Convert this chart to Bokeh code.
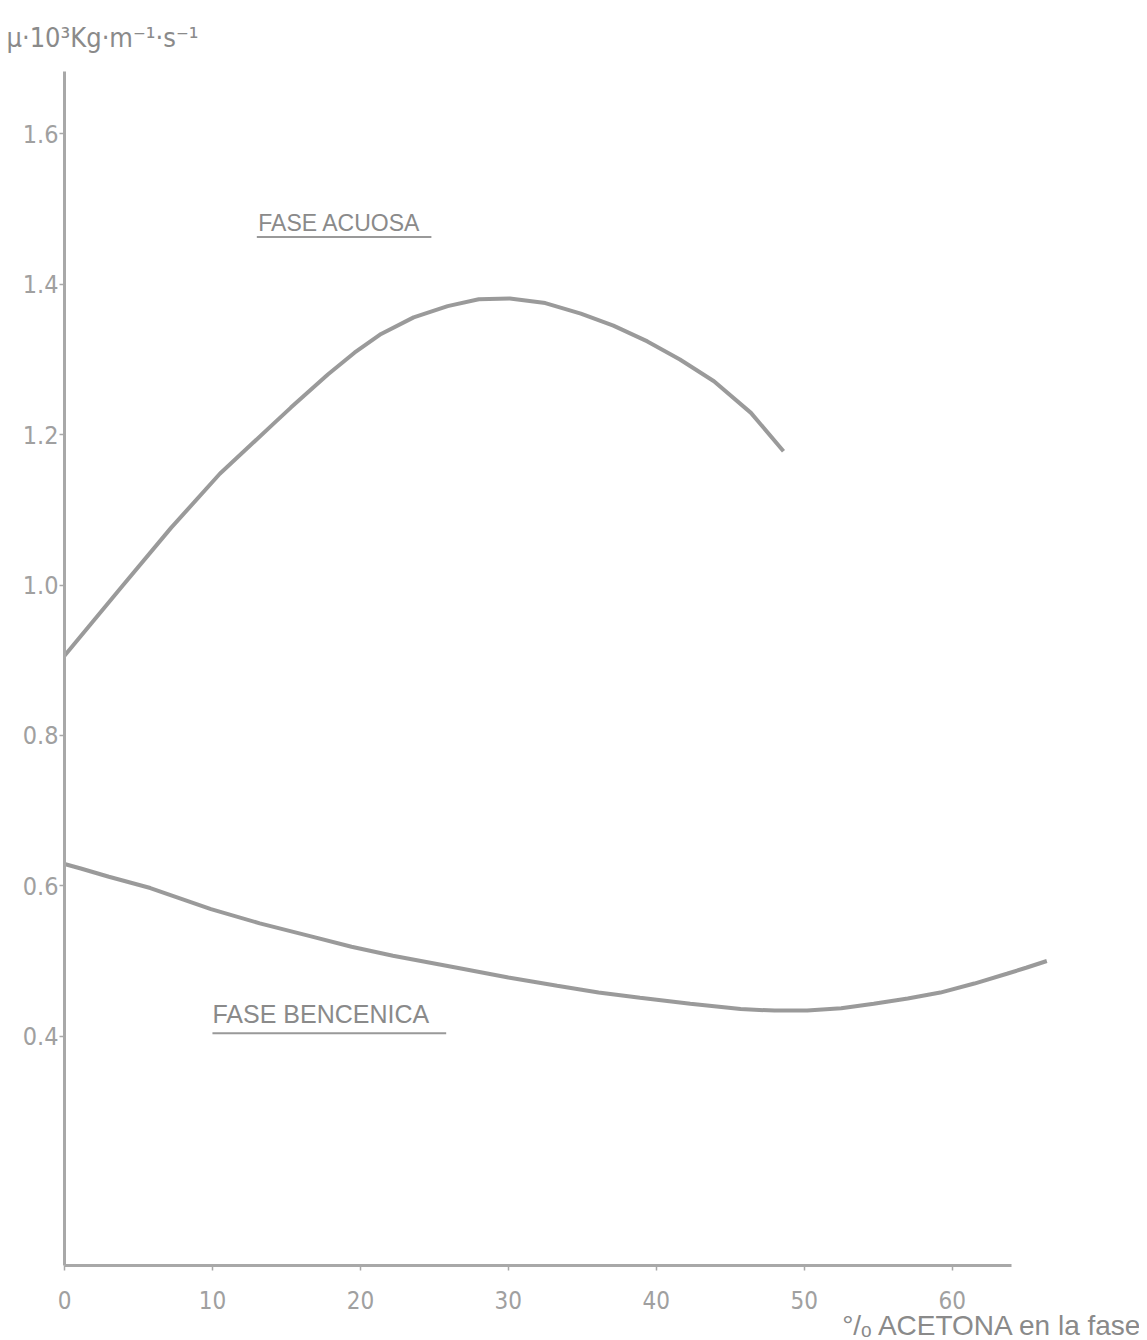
from bokeh.plotting import figure
from bokeh.models import Label, Range1d, FixedTicker, Title
from bokeh.embed import file_html
from bokeh.resources import INLINE

# Data
acuosa_x = [0, 3.8, 7.2, 10.5, 14.1, 15.3, 17.8, 19.6, 21.4, 23.6, 25.9, 28.0, 30.1, 32.5,
            34.9, 37.1, 39.4, 41.6, 43.9, 46.4, 48.6]
acuosa_y = [0.906, 0.996, 1.076, 1.148, 1.214, 1.236, 1.280, 1.309, 1.334, 1.356, 1.371, 1.380,
            1.381, 1.375, 1.361, 1.345, 1.324, 1.300, 1.271, 1.229, 1.178]

bencenica_x = [0, 1.1, 3.0, 5.8, 9.9, 13.2, 16.6, 19.4, 22.2, 26.8, 30.0, 33.3, 36.1, 38.9,
               42.3, 45.7, 48.0, 50.2, 52.5, 54.7, 57.0, 59.2, 61.5, 63.7, 65.0, 66.4]
bencenica_y = [0.629, 0.623, 0.612, 0.597, 0.569, 0.550, 0.533, 0.519, 0.507, 0.490, 0.478,
               0.467, 0.458, 0.451, 0.443, 0.436, 0.434, 0.434, 0.437, 0.443, 0.450, 0.458,
               0.470, 0.483, 0.491, 0.500]

x_ticks = [0, 10, 20, 30, 40, 50, 60]
y_ticks = [0.4, 0.6, 0.8, 1.0, 1.2, 1.4, 1.6]
y_tick_labels = {0.4: "0.4", 0.6: "0.6", 0.8: "0.8", 1.0: "1.0", 1.2: "1.2", 1.4: "1.4", 1.6: "1.6"}

y_title = "\u03bc\u00b710\u00b3Kg\u00b7m\u207b\u00b9\u00b7s\u207b\u00b9"
x_title = "\u00b0/\u2092 ACETONA en la fase"
label_acuosa = "FASE  ACUOSA"
label_bencenica = "FASE   BENCENICA"

INK = "#a0a0a0"
NARROW = "'Liberation Sans Narrow', 'DejaVu Sans Condensed', 'Liberation Sans'"
REG = "'Liberation Sans', 'DejaVu Sans'"

p = figure(width=1139, height=1340, output_backend="svg", toolbar_location=None,
           x_range=Range1d(0, 68), y_range=Range1d(0.095, 1.683),
           min_border_left=64, min_border_right=69, min_border_top=70, min_border_bottom=75)
p.outline_line_color = None
p.grid.visible = False
p.background_fill_color = "white"

p.xaxis.ticker = FixedTicker(ticks=x_ticks)
p.yaxis.ticker = FixedTicker(ticks=y_ticks)
p.yaxis.major_label_overrides = y_tick_labels
p.xaxis.bounds = (0, 64)
p.yaxis.bounds = (0.095, 1.683)
for ax in (p.xaxis, p.yaxis):
    ax.axis_line_color = "#a8a8a8"
    ax.axis_line_width = 3
    ax.major_tick_line_color = "#a8a8a8"
    ax.major_tick_line_width = 1.5
    ax.major_tick_in = 0
    ax.major_tick_out = 5
    ax.minor_tick_line_color = None
    ax.major_label_text_color = INK
    ax.major_label_text_font = NARROW
ax_font = "25px"
p.yaxis.major_label_text_font_size = ax_font
p.xaxis.major_label_text_font_size = "24px"
p.xaxis.major_label_standoff = 20
p.yaxis.major_label_standoff = 1

p.line(acuosa_x, acuosa_y, line_color="#8f8f8f", line_width=4, line_alpha=0.9)
p.line(bencenica_x, bencenica_y, line_color="#8f8f8f", line_width=4, line_alpha=0.9)

# Curve labels with underline
ac_x, ac_y, ac_end = 13.1, 1.481, 24.8
be_x, be_y, be_end = 10.0, 0.430, 25.8
p.add_layout(Label(x=ac_x, y=ac_y, text=label_acuosa, text_font=REG, text_font_size="23px",
                   text_color="#8a8a8a", text_baseline="middle"))
p.add_layout(Label(x=be_x, y=be_y, text=label_bencenica, text_font=REG, text_font_size="25px",
                   text_color="#8a8a8a", text_baseline="middle"))
p.segment(x0=[ac_x - 0.1, be_x], y0=[ac_y - 0.018, be_y - 0.026],
          x1=[ac_end, be_end], y1=[ac_y - 0.018, be_y - 0.026],
          line_color="#999999", line_width=2)

# Axis titles
p.add_layout(Title(text=y_title, align="left", offset=-58, standoff=38,
                   text_font=NARROW, text_font_size="27px", text_font_style="normal",
                   text_color="#8a8a8a"), "above")
p.add_layout(Title(text=x_title, align="right", offset=-73, standoff=-4, vertical_align="top",
                   text_font=REG, text_font_size="28px",
                   text_font_style="normal", text_color="#8a8a8a"), "below")

open("out.html", "w").write(file_html(p, INLINE))
